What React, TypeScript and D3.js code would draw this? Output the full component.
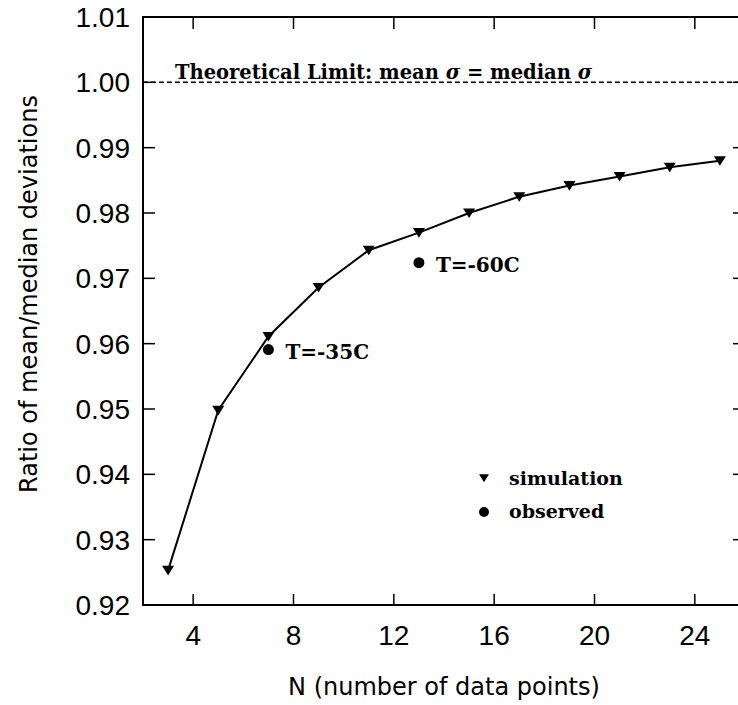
import React, { useEffect } from "react";
import * as d3 from "d3";

const simN = [3, 5, 7, 9, 11, 13, 15, 17, 19, 21, 23, 25];
const simRatio = [0.9253, 0.9498, 0.9611, 0.9686, 0.9743, 0.9770, 0.9800, 0.9825, 0.9842, 0.9856, 0.9870, 0.9880];
const obsN = [7, 13];
const obsRatio = [0.9591, 0.9724];
const obsLabels = ["T=-35C", "T=-60C"];
const xTicks = [4, 8, 12, 16, 20, 24];
const yTicks = [0.92, 0.93, 0.94, 0.95, 0.96, 0.97, 0.98, 0.99, 1.0, 1.01];
const limitValue = 1.0;
const limitParts = ["Theoretical Limit: mean ", "σ", " = median ", "σ"];
const legendLabels = ["simulation", "observed"];
const xTitle = "N (number of data points)";
const yTitle = "Ratio of mean/median deviations";

const W = 738;
const H = 705;
const L = 143, R = 745, T = 17, B = 605;

export default function App() {
  useEffect(() => {
    document.body.style.margin = "0";
    document.body.style.overflow = "hidden";
  }, []);

  const x = d3.scaleLinear().domain([2, 26]).range([L, R]);
  const y = d3.scaleLinear().domain([0.92, 1.01]).range([B, T]);
  const line = d3
    .line<number>()
    .x((_, i) => x(simN[i]))
    .y((d) => y(d));
  const tri = (cx: number, cy: number, s = 6) =>
    `M${cx - s},${cy - s * 0.75}L${cx + s},${cy - s * 0.75}L${cx},${cy + s * 0.85}Z`;
  const sans = "'Liberation Sans', Arial, sans-serif";
  const sans2 = "'DejaVu Sans', sans-serif";
  const serif = "'DejaVu Serif', serif";
  const fmt = d3.format(".2f");

  return (
    <svg width={W} height={H} style={{ display: "block", background: "#fff" }}>
      <rect x={L} y={T} width={R - L} height={B - T} fill="none" stroke="#000" strokeWidth={2} />
      {xTicks.map((t) => (
        <g key={"x" + t}>
          <line x1={x(t)} x2={x(t)} y1={B} y2={B - 11} stroke="#000" strokeWidth={1.5} />
          <line x1={x(t)} x2={x(t)} y1={T} y2={T + 12} stroke="#000" strokeWidth={1.5} />
          <text x={x(t)} y={645} textAnchor="middle" fontFamily={sans} fontSize={28}>
            {t}
          </text>
        </g>
      ))}
      {yTicks.map((t) => (
        <g key={"y" + t}>
          <line x1={L} x2={L + 12} y1={y(t)} y2={y(t)} stroke="#000" strokeWidth={1.5} />
          <line x1={R} x2={R - 12} y1={y(t)} y2={y(t)} stroke="#000" strokeWidth={1.5} />
          <text x={130} y={y(t)} dy="0.36em" textAnchor="end" fontFamily={sans} fontSize={28}>
            {fmt(t)}
          </text>
        </g>
      ))}
      <line x1={L} x2={R} y1={y(limitValue)} y2={y(limitValue)} stroke="#000" strokeWidth={1.5} strokeDasharray="5,3" />
      <text x={175} y={y(limitValue) - 3} fontFamily={serif} fontWeight="bold" fontSize={19.5}>
        {limitParts.map((p, i) => (
          <tspan key={i} fontStyle={p === "σ" ? "italic" : "normal"}>
            {p}
          </tspan>
        ))}
      </text>
      <path d={line(simRatio) || ""} fill="none" stroke="#000" strokeWidth={2} />
      {simRatio.map((v, i) => (
        <path key={"s" + i} d={tri(x(simN[i]), y(v))} fill="#000" />
      ))}
      {obsRatio.map((v, i) => (
        <g key={"o" + i}>
          <circle cx={x(obsN[i])} cy={y(v)} r={5.5} fill="#000" />
          <text x={x(obsN[i]) + 17} y={y(v) + 9} fontFamily={serif} fontWeight="bold" fontSize={20}>
            {obsLabels[i]}
          </text>
        </g>
      ))}
      <path d={tri(484, 478, 5)} fill="#000" />
      <text x={509} y={485} fontFamily={serif} fontWeight="bold" fontSize={19}>
        {legendLabels[0]}
      </text>
      <circle cx={484} cy={512} r={5} fill="#000" />
      <text x={509} y={518} fontFamily={serif} fontWeight="bold" fontSize={19}>
        {legendLabels[1]}
      </text>
      <text x={(L + R) / 2} y={695} textAnchor="middle" fontFamily={sans2} fontSize={24}>
        {xTitle}
      </text>
      <text
        transform={`translate(37,294) rotate(-90)`}
        textAnchor="middle"
        fontFamily={sans2}
        fontSize={24}
      >
        {yTitle}
      </text>
    </svg>
  );
}
